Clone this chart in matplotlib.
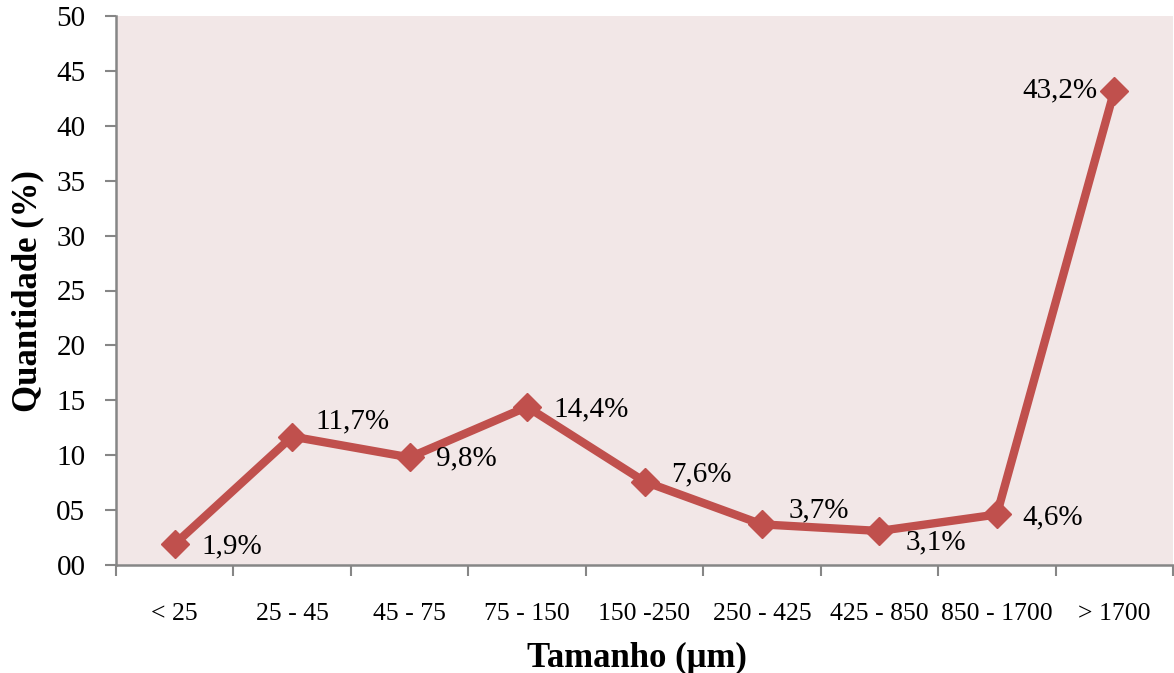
import numpy as np
import matplotlib
matplotlib.use("Agg")
import matplotlib.pyplot as plt

categorias = ["< 25", "25 - 45", "45 - 75", "75 - 150", "150 -250", "250 - 425",
              "425 - 850", "850 - 1700", "> 1700"]
quantidade = [1.9, 11.7, 9.8, 14.4, 7.6, 3.7, 3.1, 4.6, 43.2]
rotulos = ["1,9%", "11,7%", "9,8%", "14,4%", "7,6%", "3,7%", "3,1%", "4,6%", "43,2%"]
# label offsets (pixels) relative to each point
desloc = [(57, -2), (60, 15), (57, -1), (64, -2), (57, 7), (57, 14), (56, -11), (56, -3), (-54, 0)]

plt.rcParams['font.family'] = ['Liberation Serif', 'DejaVu Serif']

fig = plt.figure(figsize=(11.74, 6.73), dpi=100)
ax = fig.add_axes([116/1174, 1 - 565/673, 1057/1174, 549/673])
ax.set_facecolor("#F2E7E7")

x = np.arange(len(categorias))
ax.plot(x, quantidade, color="#C0504D", lw=6, marker="D", markersize=14,
        markeredgecolor="#C0504D", markerfacecolor="#C0504D", solid_joinstyle="miter",
        zorder=3)

for xi, yi, r, (dx, dy) in zip(x, quantidade, rotulos, desloc):
    ax.annotate(r, (xi, yi), xytext=(dx, dy), textcoords="offset pixels",
                ha="center", va="center", fontsize=21, color="black")

ax.set_xlim(-0.5, len(categorias) - 0.5)
ax.set_ylim(0, 50)
ax.set_yticks(range(0, 51, 5))
ax.set_yticklabels([f"{v:02d}" for v in range(0, 51, 5)], fontsize=21)

ax.set_xticks(np.arange(len(categorias) + 1) - 0.5)
ax.set_xticklabels([])
ax.set_xticks(x, minor=True)
ax.set_xticklabels(categorias, minor=True, fontsize=18.5)
ax.tick_params(axis="x", which="minor", length=0, pad=27)
ax.tick_params(axis="x", which="major", length=8, width=1.5, color="#868686", direction="out")
ax.tick_params(axis="y", length=8, width=1.5, color="#868686", direction="out", pad=14)

for s in ["top", "right"]:
    ax.spines[s].set_visible(False)
for s in ["left", "bottom"]:
    ax.spines[s].set_color("#868686")
    ax.spines[s].set_linewidth(1.8)

fig.text(637/1174, 1 - 658/673, "Tamanho (μm)", ha="center", va="center",
         fontsize=25, fontweight="bold")
fig.text(28/1174, 1 - 291/673, "Quantidade (%)", ha="center", va="center",
         fontsize=25, fontweight="bold", rotation=90)

fig.savefig("out.png", dpi=100)
